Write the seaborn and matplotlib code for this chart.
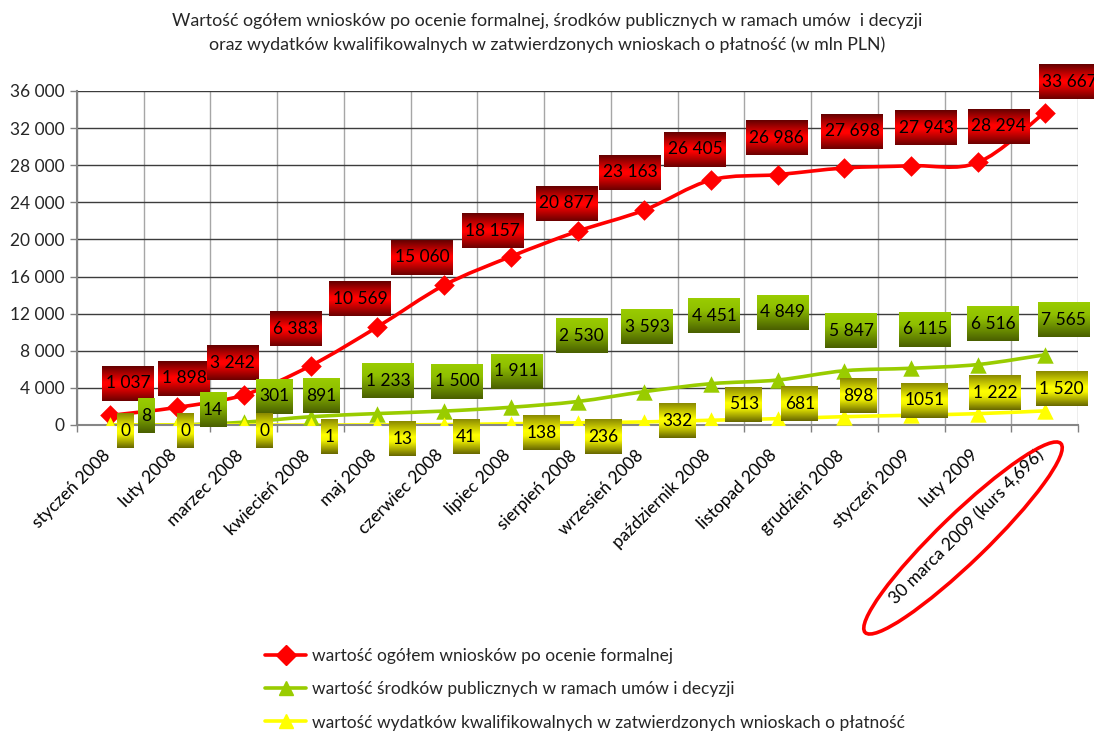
# %% Wykres: wnioski, środki publiczne, wydatki kwalifikowalne (mln PLN)
import numpy as np
import pandas as pd
import seaborn as sns
import matplotlib.pyplot as plt
from matplotlib.path import Path
from matplotlib.patches import PathPatch, Ellipse
from matplotlib.lines import Line2D
from matplotlib.colors import to_rgb
from matplotlib.transforms import IdentityTransform, ScaledTranslation

# %% Dane

miesiace = [
    "styczeń 2008", "luty 2008", "marzec 2008", "kwiecień 2008", "maj 2008",
    "czerwiec 2008", "lipiec 2008", "sierpień 2008", "wrzesień 2008",
    "październik 2008", "listopad 2008", "grudzień 2008", "styczeń 2009",
    "luty 2009", "30 marca 2009 (kurs 4,696)",
]

wnioski_ogolem = [1037, 1898, 3242, 6383, 10569, 15060, 18157, 20877, 23163,
                  26405, 26986, 27698, 27943, 28294, 33667]
srodki_publiczne = [8, 14, 301, 891, 1233, 1500, 1911, 2530, 3593,
                    4451, 4849, 5847, 6115, 6516, 7565]
wydatki_kwalif = [0, 0, 0, 1, 13, 41, 138, 236, 332,
                  513, 681, 898, 1051, 1222, 1520]

nazwy_serii = [
    "wartość ogółem wniosków po ocenie formalnej",
    "wartość środków publicznych w ramach umów i decyzji",
    "wartość wydatków kwalifikowalnych w zatwierdzonych wnioskach o płatność",
]

tytul = ("Wartość ogółem wniosków po ocenie formalnej, środków publicznych w ramach umów  i decyzji\n"
         "oraz wydatków kwalifikowalnych w zatwierdzonych wnioskach o płatność (w mln PLN)")

# %% Styl

KOLORY = ["#ff0000", "#99cc00", "#ffff00"]
MARKERY = ["D", "^", "^"]
ROZMIARY = [110, 140, 140]

# gradienty etykiet (pozycja, kolor) - od góry do dołu
GRADIENTY = [
    [(0.0, "#660000"), (0.45, "#ff0000"), (0.55, "#ff0000"), (1.0, "#6e0000")],
    [(0.0, "#99cc00"), (0.35, "#8fbf00"), (1.0, "#4a6000")],
    [(0.0, "#8c8c00"), (0.45, "#ffff00"), (0.6, "#f5f500"), (1.0, "#6a6a00")],
]

# przesunięcia etykiet względem punktu (piksele, y w dół)
PRZES_CZERW = [(18, -32), (7, -29), (-11, -32), (-15, -37), (-17, -28), (-22, -28),
               (-18, -26), (-11, -28), (-14, -38), (-16, -31), (-1, -37), (8, -37),
               (15, -38), (21, -36), (25, -31)]
PRZES_ZIEL = [(36, -9), (36, -15), (31, -26), (11, -21), (11, -33), (13, -30),
              (6, -36), (4, -66), (3, -65), (3, -68), (5, -68), (7, -40),
              (14, -39), (15, -41), (19, -35)]
PRZES_ZOLT = [(15, 6), (8, 6), (21, 6), (19, 12), (25, 14), (22, 12), (31, 9),
              (26, 14), (33, -1), (33, -16), (22, -15), (14, -21), (13, -15),
              (17, -21), (17, -22)]

sns.set_theme(style="white")
plt.rcParams["font.family"] = ["Lato", "DejaVu Sans"]


def fmt_tys(v):
    return f"{int(v):,}".replace(",", " ")


def gradient(h, w, stopy):
    pos = [p for p, _ in stopy]
    cols = np.array([to_rgb(c) for _, c in stopy])
    t = np.linspace(0, 1, h)
    rgb = np.stack([np.interp(t, pos, cols[:, k]) for k in range(3)], axis=1)
    return np.repeat(rgb[:, None, :], w, axis=1)


def sciezka_gladka(xs, ys):
    """Krzywa Beziera przez punkty (wygładzanie jak w Excelu)."""
    pts = np.column_stack([xs, ys]).astype(float)
    n = len(pts)
    verts = [pts[0]]
    codes = [Path.MOVETO]
    for i in range(n - 1):
        p_prev = pts[max(i - 1, 0)]
        p0, p1 = pts[i], pts[i + 1]
        p_next = pts[min(i + 2, n - 1)]
        c1 = p0 + (p1 - p_prev) / 6
        c2 = p1 - (p_next - p0) / 6
        verts += [c1, c2, p1]
        codes += [Path.CURVE4] * 3
    return Path(verts, codes)


# %% Wykres

fig, ax = plt.subplots(figsize=(10.94, 7.32), dpi=100)
fig.subplots_adjust(left=0.0704, right=0.9854, bottom=0.4194, top=0.8757)

x = np.arange(len(miesiace))
serie = [wnioski_ogolem, srodki_publiczne, wydatki_kwalif]

for wart, kol in zip(serie, KOLORY):
    ax.add_patch(PathPatch(sciezka_gladka(x, wart), fill=False, edgecolor=kol,
                           lw=2.6, zorder=2, capstyle="round"))

for nazwa, wart, kol, mk, rozm in zip(nazwy_serii, serie, KOLORY, MARKERY, ROZMIARY):
    df = pd.DataFrame({"x": x, "wartosc": wart})
    sns.scatterplot(data=df, x="x", y="wartosc", color=kol, marker=mk,
                    s=rozm, linewidth=0, legend=False, ax=ax, zorder=3)

ax.set_xlim(-0.5, len(miesiace) - 0.5)
ax.set_ylim(0, 36000)
ax.set_yticks(np.arange(0, 36001, 4000))
ax.set_yticklabels([fmt_tys(v) for v in np.arange(0, 36001, 4000)], fontsize=12.5)
ax.set_xticks(x)
ax.set_xticklabels(miesiace, fontsize=12.5, rotation=45, ha="right",
                   va="center", rotation_mode="anchor")
ax.set_xticks(np.arange(-0.5, len(miesiace)), minor=True)
ax.set_xlabel("")
ax.set_ylabel("")

ax.tick_params(axis="x", which="major", length=0, pad=20, colors="black")
ax.tick_params(axis="x", which="minor", length=5, width=1, color="#808080",
               direction="out", bottom=True)
ax.tick_params(axis="y", length=5, width=1, color="#808080", direction="out",
               left=True, pad=4)
for lab in ax.get_xticklabels():
    lab.set_transform(lab.get_transform() + ScaledTranslation(-3 / 100, 0, fig.dpi_scale_trans))

ax.grid(axis="y", which="major", color="#3c3c3c", lw=1)
ax.grid(axis="x", which="minor", color="#a6a6a6", lw=1)
ax.grid(axis="x", which="major", visible=False)
ax.set_axisbelow(True)
for s in ["top", "right"]:
    ax.spines[s].set_visible(False)
for s in ["left", "bottom"]:
    ax.spines[s].set_color("#868686")
    ax.spines[s].set_linewidth(1.5)

fig.text(0.5, 0.982, tytul, ha="center", va="top", fontsize=12.8,
         linespacing=1.5)

# legenda
uchwyty = [Line2D([0], [0], color=k, lw=2.6, marker=m, markersize=10)
           for k, m in zip(KOLORY, MARKERY)]
fig.legend(uchwyty, nazwy_serii, loc="upper left", bbox_to_anchor=(0.242, 0.115),
           frameon=False, fontsize=12.5, handlelength=2.4, handletextpad=0.3,
           labelspacing=1.0, borderaxespad=0, borderpad=0)

# elipsa wokół ostatniej kategorii
fig.patches.append(Ellipse((963, 732 - 538), 272, 48, angle=44, fill=False,
                           edgecolor="#ff0000", lw=2.6,
                           transform=IdentityTransform(), zorder=4))

# %% Etykiety danych z gradientem

fig.canvas.draw()
renderer = fig.canvas.get_renderer()

nadpisania = {2: {12: "1051"}}
for k, (wart, przes) in enumerate(zip(serie, [PRZES_CZERW, PRZES_ZIEL, PRZES_ZOLT])):
    for i, v in enumerate(wart):
        px, py = ax.transData.transform((i, v))
        cx, cy = px + przes[i][0], py - przes[i][1]
        tekst = nadpisania.get(k, {}).get(i, fmt_tys(v))
        t = fig.text(cx, cy, tekst, ha="center", va="center", fontsize=12.5,
                     color="black", transform=IdentityTransform(), zorder=7)
        szer = t.get_window_extent(renderer).width
        bw, bh = int(round(szer + 7)), 35
        fig.figimage(gradient(bh, bw, GRADIENTY[k]),
                     xo=int(round(cx - bw / 2)), yo=int(round(cy - bh / 2)),
                     origin="upper", zorder=6)

fig.savefig("out.png", dpi=100)
